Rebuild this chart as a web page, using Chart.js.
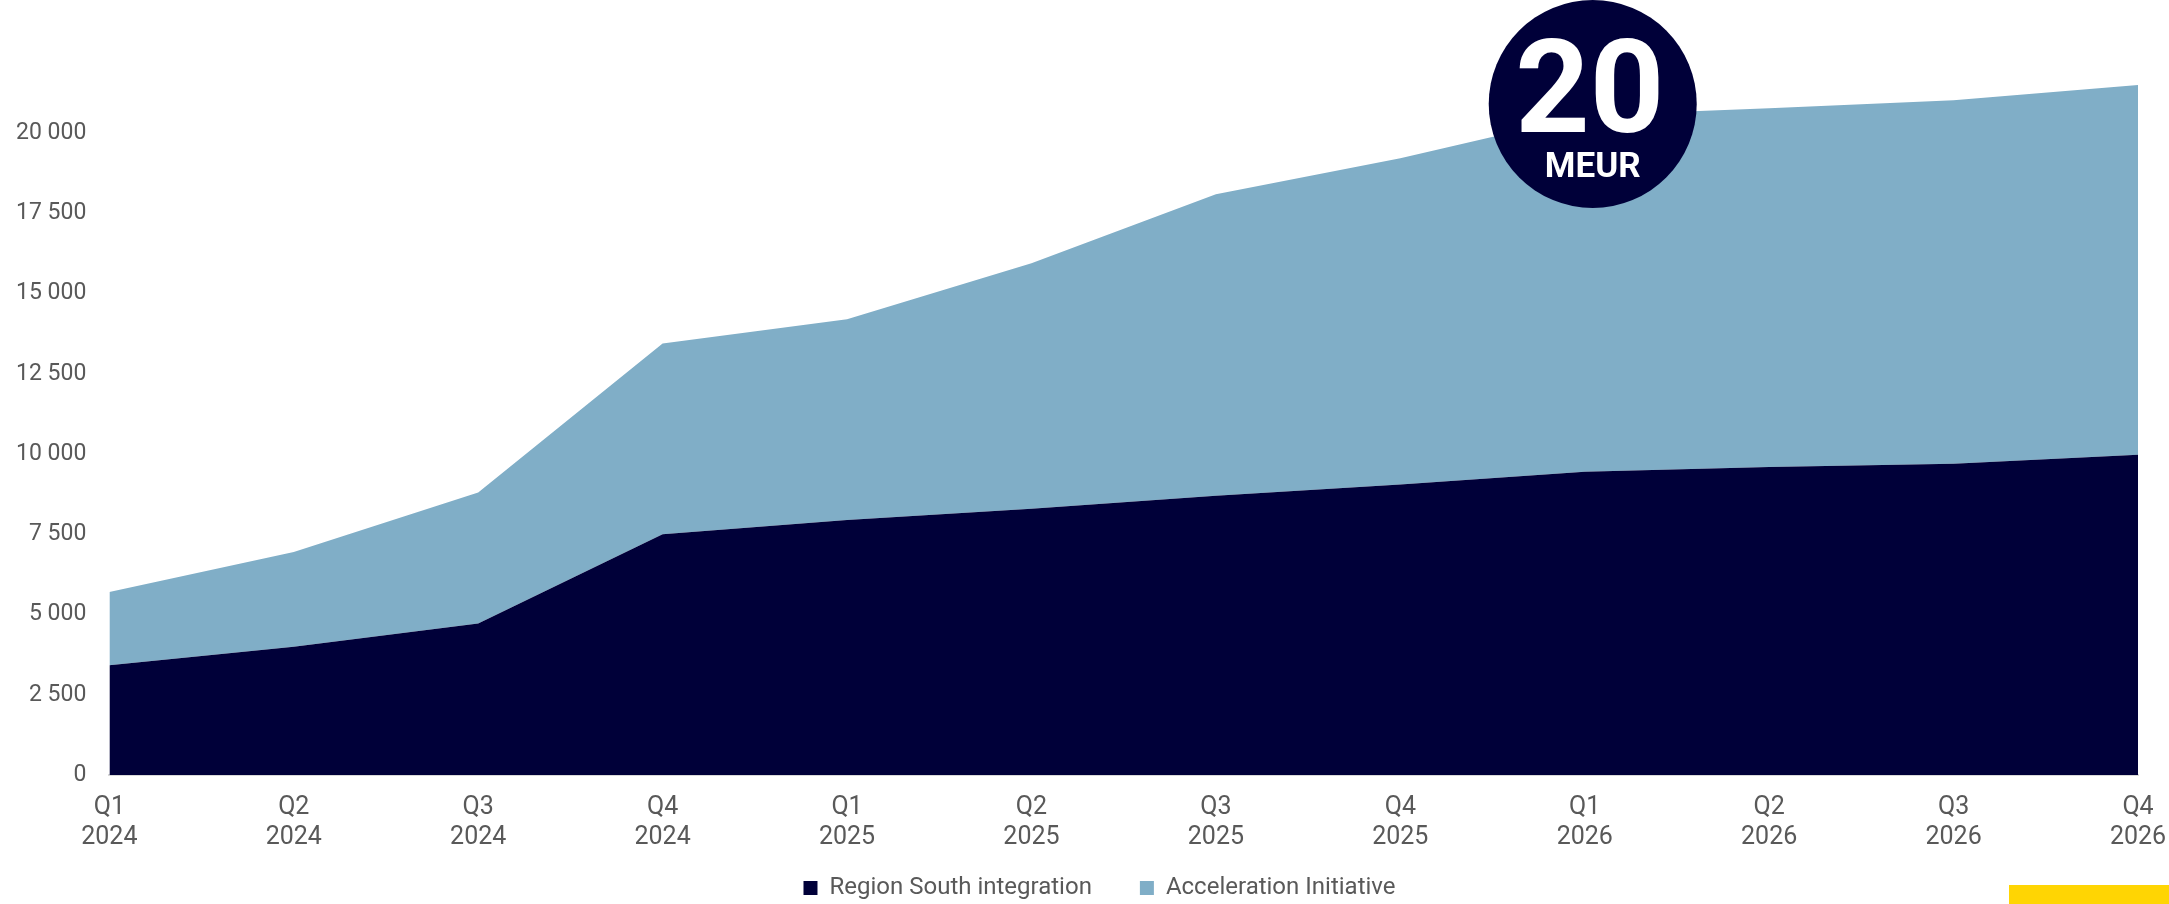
<!DOCTYPE html>
<html>
<head>
<meta charset="utf-8">
<script src="https://cdn.jsdelivr.net/npm/chart.js@4.4.0/dist/chart.umd.min.js"></script>
<style>
  html, body { margin: 0; padding: 0; background: #fff; }
  #wrap { position: relative; width: 2169px; height: 904px; }
  #yellow { position: absolute; left: 2009px; top: 885px; width: 160px; height: 19px; background: #FFD503; }
</style>
</head>
<body>
<div id="wrap">
  <canvas id="chart" width="2169" height="904"></canvas>
  <div id="yellow"></div>
</div>
<script>
// Daten
const quarters = [
  ['Q1', '2024'], ['Q2', '2024'], ['Q3', '2024'], ['Q4', '2024'],
  ['Q1', '2025'], ['Q2', '2025'], ['Q3', '2025'], ['Q4', '2025'],
  ['Q1', '2026'], ['Q2', '2026'], ['Q3', '2026'], ['Q4', '2026']
];
const regionSouth = [3420, 4000, 4720, 7500, 7950, 8300, 8700, 9050, 9450, 9600, 9700, 9980];
const acceleration = [2280, 2950, 4080, 5950, 6250, 7650, 9400, 10170, 11100, 11180, 11330, 11520];
const yTicks = [0, 2500, 5000, 7500, 10000, 12500, 15000, 17500, 20000];

const badgeValue = '20';
const badgeUnit = 'MEUR';
const badgeIndex = 8; // Q1 2026

const fmt = v => String(v).replace(/\B(?=(\d{3})+(?!\d))/g, ' ');

// Kreis mit "20 MEUR"
const badgePlugin = {
  id: 'badge',
  afterDatasetsDraw(chart) {
    const ctx = chart.ctx;
    const x = chart.scales.x.getPixelForValue(badgeIndex) + 8;
    const y = 104;
    ctx.save();
    ctx.beginPath();
    ctx.arc(x, y, 104, 0, Math.PI * 2);
    ctx.fillStyle = '#000039';
    ctx.fill();
    ctx.fillStyle = '#ffffff';
    ctx.textAlign = 'center';
    ctx.textBaseline = 'alphabetic';
    ctx.font = 'bold 130px Roboto';
    ctx.fillText(badgeValue, x - 3, 132);
    ctx.font = 'bold 35px Roboto';
    ctx.fillText(badgeUnit, x, 177);
    ctx.restore();
  }
};

// Legende etwas verschieben (wie im Original)
const legendShift = {
  id: 'legendShift',
  afterLayout(chart) {
    const lg = chart.legend;
    const h = lg.bottom - lg.top;
    lg.left += 30;
    lg.right += 30;
    lg.top = 828;
    lg.bottom = lg.top + h;
  }
};

new Chart(document.getElementById('chart'), {
  type: 'line',
  data: {
    labels: quarters,
    datasets: [
      {
        label: 'Region South integration',
        data: regionSouth,
        backgroundColor: '#000039',
        borderColor: '#000039',
        borderWidth: 0,
        pointRadius: 0,
        fill: 'origin'
      },
      {
        label: 'Acceleration Initiative',
        data: acceleration,
        backgroundColor: '#80AEC7',
        borderColor: '#80AEC7',
        borderWidth: 0,
        pointRadius: 0,
        fill: '-1'
      }
    ]
  },
  options: {
    responsive: false,
    animation: false,
    layout: { padding: { top: 53, left: 1, right: 31, bottom: -41 } },
    plugins: {
      tooltip: { enabled: false },
      legend: {
        position: 'bottom',
        labels: {
          color: '#595959',
          font: { family: 'Roboto', size: 24 },
          boxWidth: 14,
          boxHeight: 14,
          padding: 48
        }
      }
    },
    scales: {
      x: {
        offset: false,
        grid: { display: false },
        border: { display: true, color: '#D9D9D9', width: 2 },
        ticks: {
          color: '#595959',
          font: { family: 'Roboto', size: 25 },
          padding: 10,
          maxRotation: 0,
          autoSkip: false
        },
        afterFit: axis => {
          axis.paddingLeft = 0;
          axis.paddingRight = 0;
        }
      },
      y: {
        stacked: true,
        min: 0,
        max: 22500,
        afterBuildTicks: axis => { axis.ticks = yTicks.map(v => ({ value: v })); },
        grid: { display: false },
        border: { display: false },
        ticks: {
          color: '#595959',
          font: { family: 'Roboto', size: 23 },
          padding: 15,
          callback: v => fmt(v)
        },
        afterFit: axis => {
          axis.paddingTop = 0;
          axis.paddingBottom = 0;
        }
      }
    }
  },
  plugins: [badgePlugin, legendShift]
});
</script>
</body>
</html>
